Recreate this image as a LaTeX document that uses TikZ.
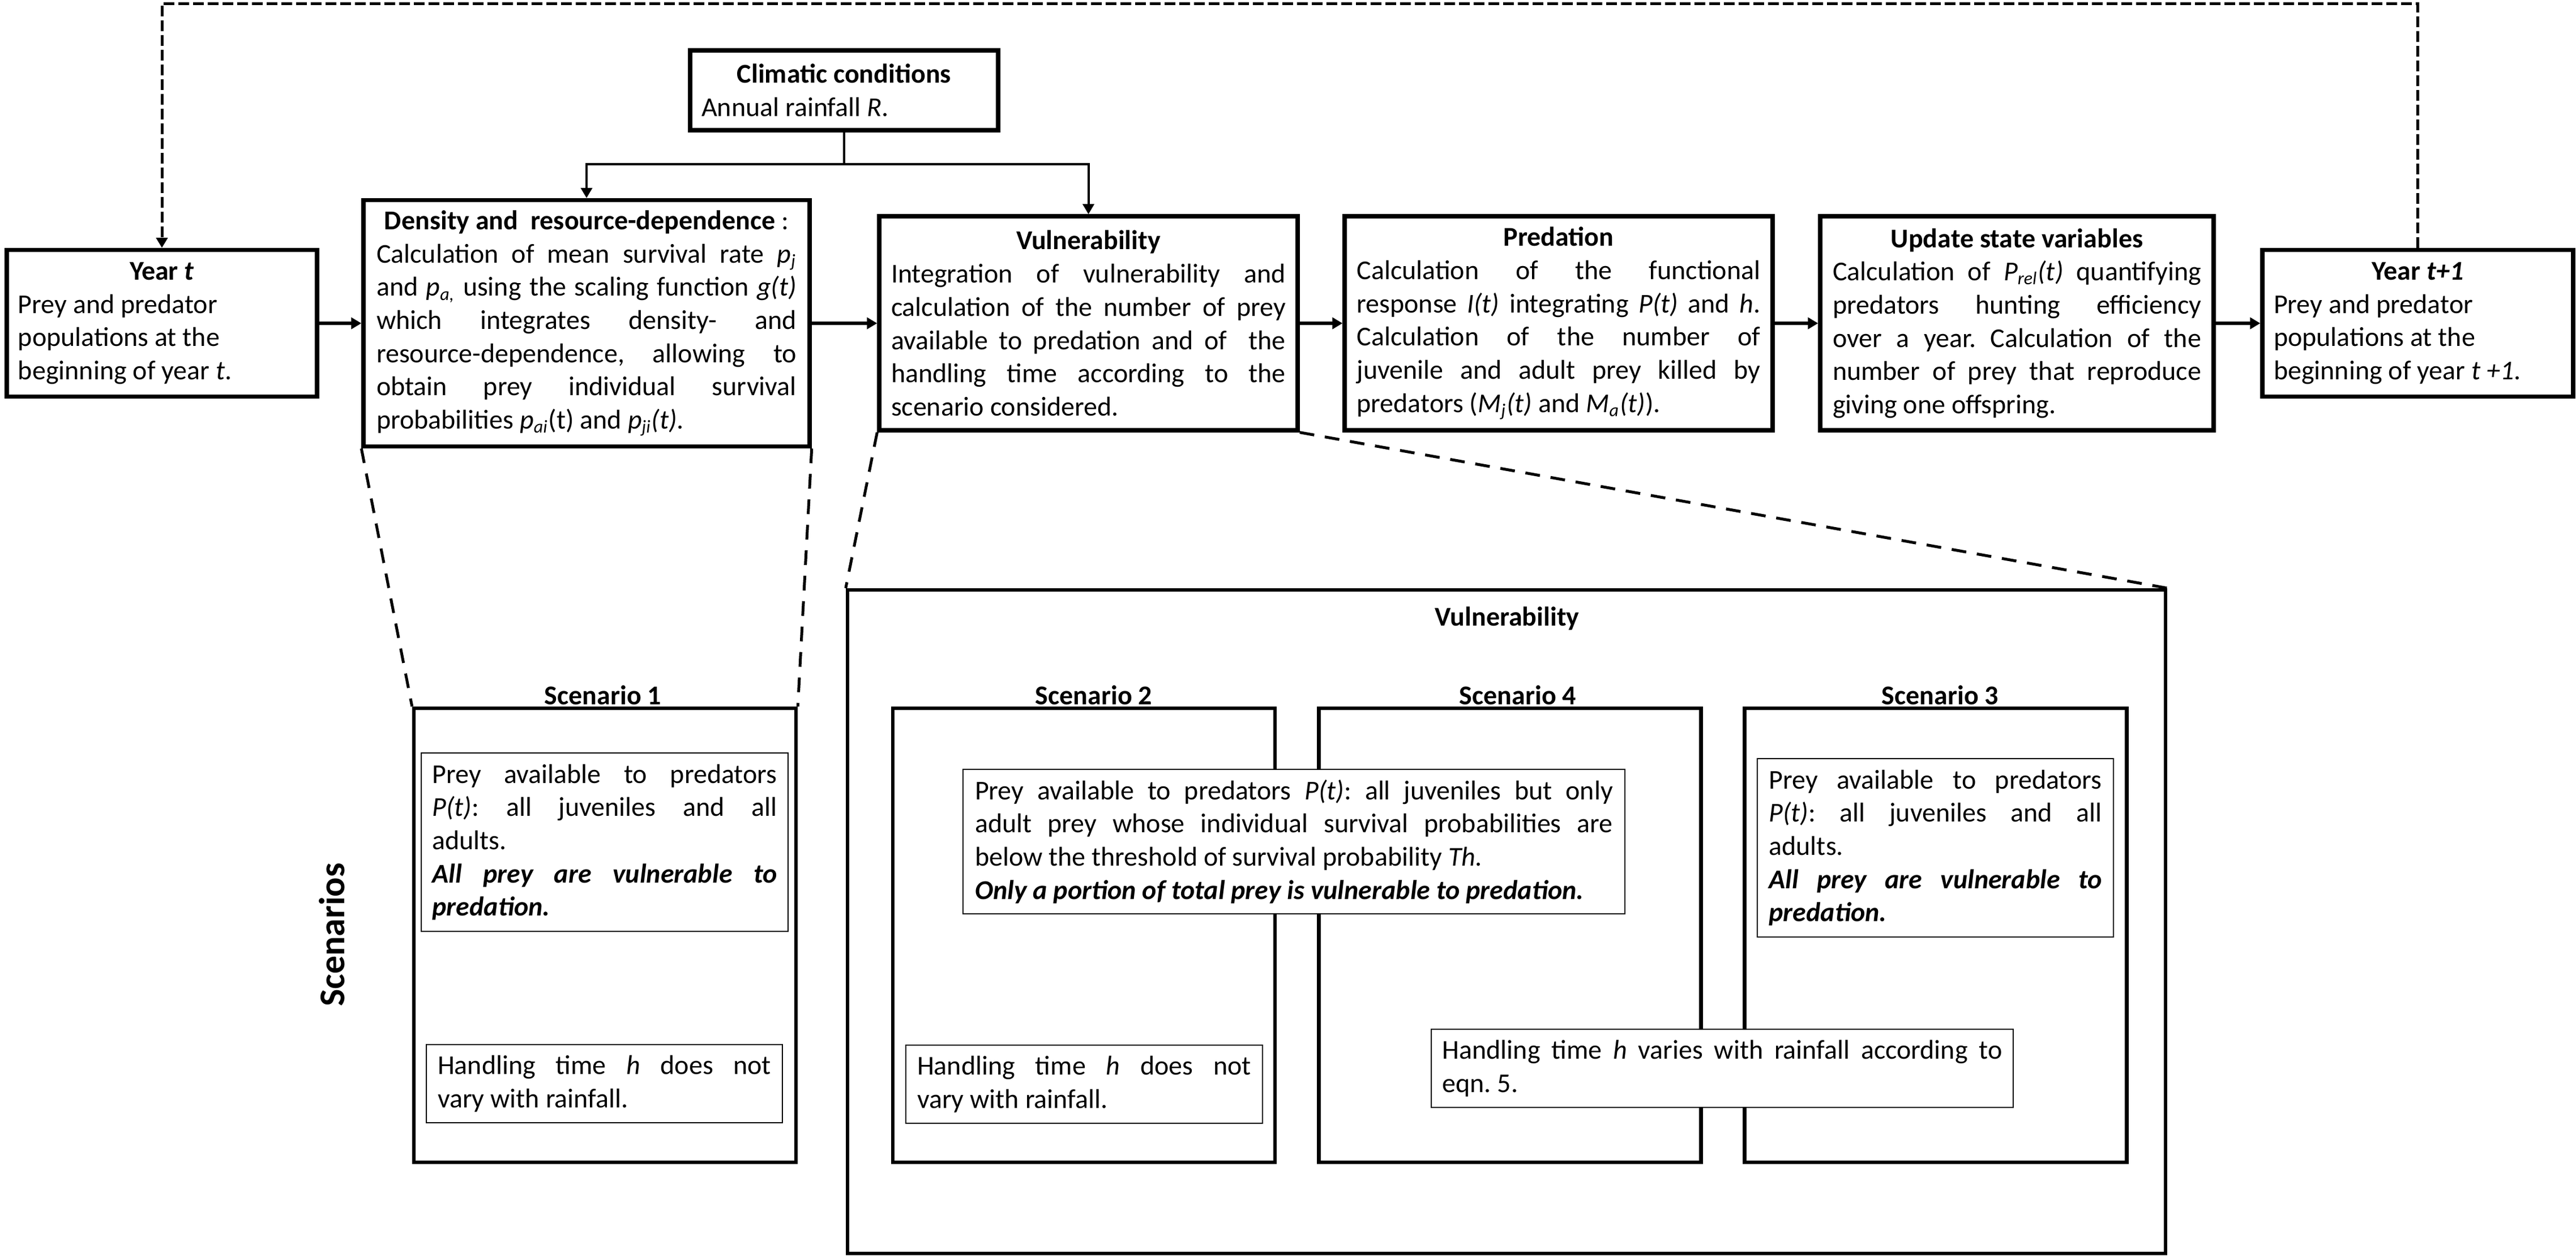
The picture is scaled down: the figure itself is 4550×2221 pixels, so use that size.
\documentclass[tikz,border=0pt]{standalone}
\usepackage{fontspec}
\setmainfont{Carlito}
\usetikzlibrary{arrows.meta}
\setlength{\parindent}{0pt}
\frenchspacing
\begin{document}
\begin{tikzpicture}[x=0.25pt,y=-0.25pt,
  every node/.style={font=\fontsize{12}{14.67}\selectfont\frenchspacing},
  mainbox/.style={draw, line width=1.85pt, align=justify, inner xsep=0pt, inner ysep=0pt},
  scenbox/.style={draw, line width=1.6pt, inner sep=0pt},
  txtbox/.style={draw, line width=0.65pt, fill=white, align=justify, inner xsep=0pt, inner ysep=0pt},
  lbl/.style={font=\fontsize{12}{14.67}\selectfont\bfseries, anchor=base, inner sep=0pt},
  flow/.style={line width=1.3pt, -{Triangle[length=4.5pt,width=5pt]}},
  climline/.style={line width=1pt, -{Triangle[length=4.5pt,width=5pt]}},
  feedback/.style={line width=1.25pt, dash pattern=on 4.75pt off 1.75pt, -{Triangle[length=4.5pt,width=5pt]}},
  zoomline/.style={line width=1.25pt, dash pattern=on 6.5pt off 4.75pt},
]
\useasboundingbox (0,0) rectangle (4550,2221);

% ---------- top row ----------
\node[mainbox, text width=127pt, minimum width=137pt, minimum height=64.75pt] (yt) at (286,571)
 {{\centering\textbf{Year \textit{t}}\par}Prey and predator\\populations at the\\beginning of year \textit{t}.};

\node[mainbox, text width=185.5pt, minimum width=197pt, minimum height=108.75pt] (dens) at (1036,571)
 {{\centering\textbf{Density and\ \ resource-dependence}\ :\par}Calculation of mean survival rate \textit{p\textsubscript{j}}\linebreak
 and \textit{p\textsubscript{a,}} using the scaling function \textit{g(t)}\linebreak
 which integrates density- and\linebreak
 resource-dependence, allowing to\linebreak
 obtain prey individual survival\linebreak
 probabilities \textit{p\textsubscript{ai}}(t) and \textit{p\textsubscript{ji}(t)}.};

\node[mainbox, text width=126pt, minimum width=136pt, minimum height=35.25pt] (clim) at (1491,159.5)
 {{\centering\textbf{Climatic conditions}\par}Annual rainfall \textit{R}.};

\node[mainbox, text width=174.25pt, minimum width=184.75pt, minimum height=94.5pt] (vul) at (1922.5,571)
 {{\centering\textbf{Vulnerability}\par}Integration of vulnerability and\linebreak
 calculation of the number of prey\linebreak
 available to predation and of\ \ the\linebreak
 handling time according to the\linebreak
 scenario considered.};

\node[mainbox, text width=178.25pt, minimum width=189pt, minimum height=94.5pt] (pred) at (2753,571)
 {{\centering\textbf{Predation}\par}Calculation of the functional\linebreak
 response \textit{I(t)} integrating \textit{P(t)} and \textit{h}.\linebreak
 Calculation of the number of\linebreak
 juvenile and adult prey killed by\linebreak
 predators (\textit{M\textsubscript{j}(t)} and \textit{M\textsubscript{a}(t)}).};

\node[mainbox, text width=162.75pt, minimum width=173.75pt, minimum height=94.5pt] (upd) at (3562.5,571)
 {{\centering\textbf{Update state variables}\par}Calculation of \textit{P\textsubscript{rel}(t)} quantifying\linebreak
 predators hunting efficiency\linebreak
 over a year. Calculation of the\linebreak
 number of prey that reproduce\linebreak
 giving one offspring.};

\node[mainbox, text width=127.25pt, minimum width=137.25pt, minimum height=64.75pt] (ytp) at (4270.5,571)
 {{\centering\textbf{Year \textit{t+1}}\par}Prey and predator\\populations at the\\beginning of year \textit{t +1}.};

% ---------- top connectors ----------
\draw[flow] (yt.east) -- (dens.west);
\draw[flow] (dens.east) -- (vul.west);
\draw[flow] (vul.east) -- (pred.west);
\draw[flow] (pred.east) -- (upd.west);
\draw[flow] (upd.east) -- (ytp.west);

\coordinate (cj) at (1491,290);
\draw[line width=1pt] (clim.south) -- (cj);
\draw[climline] (cj) -| (dens.north);
\draw[climline] (cj) -| (vul.north);

\coordinate (fbR) at (4270.5,6);
\coordinate (fbL) at (286,6);
\draw[feedback] (ytp.north) -- (fbR) -- (fbL) -- (yt.north);

% ---------- scenarios ----------
\node[font=\fontsize{16}{19}\selectfont\bfseries, rotate=90] (scen) at (586,1651) {Scenarios};

\node[scenbox, minimum width=168.75pt, minimum height=200.5pt] (sc1) at (1068.5,1652) {};
\node[lbl] (sc1l) at (1065,1244) {Scenario 1};

\node[scenbox, minimum width=582pt, minimum height=293pt] (big) at (2661,1628) {};
\node[lbl] (bigl) at (2662,1105) {Vulnerability};

\node[scenbox, minimum width=168.75pt, minimum height=200.5pt] (sc2) at (1914.5,1652) {};
\node[lbl] (sc2l) at (1932,1244) {Scenario 2};
\node[scenbox, minimum width=168.75pt, minimum height=200.5pt] (sc4) at (2667,1652) {};
\node[lbl] (sc4l) at (2681,1244) {Scenario 4};
\node[scenbox, minimum width=168.75pt, minimum height=200.5pt] (sc3) at (3419,1652) {};
\node[lbl] (sc3l) at (3427,1244) {Scenario 3};

\node[txtbox, text width=152.25pt, minimum width=162pt, minimum height=78.75pt] (in1) at (1068,1487.5)
 {Prey available to predators\linebreak
 \textit{P(t)}: all juveniles and all\linebreak
 adults.\par
 \textbf{\textit{All prey are vulnerable to\linebreak predation.}}};
\node[txtbox, text width=147.25pt, minimum width=157.25pt, minimum height=34.5pt] (in1b) at (1067.5,1914)
 {Handling time \textit{h} does not\linebreak vary with rainfall.};

\node[txtbox, text width=281.75pt, minimum width=292.25pt, minimum height=63.75pt] (ov) at (2285.5,1486.5)
 {Prey available to predators \textit{P(t)}: all juveniles but only\linebreak
 adult prey whose individual survival probabilities are\linebreak
 below the threshold of survival probability \textit{Th.}\par
 \textbf{\textit{Only a portion of total prey is vulnerable to predation.}}};

\node[txtbox, text width=147.5pt, minimum width=157.5pt, minimum height=34.5pt] (in2b) at (1915,1915)
 {Handling time \textit{h} does not\linebreak vary with rainfall.};

\node[txtbox, text width=147pt, minimum width=157.25pt, minimum height=78.75pt] (in3) at (3418.5,1497.5)
 {Prey available to predators\linebreak
 \textit{P(t)}: all juveniles and all\linebreak
 adults.\par
 \textbf{\textit{All prey are vulnerable to\linebreak predation.}}};

\node[txtbox, text width=247.25pt, minimum width=257pt, minimum height=34.5pt] (in4b) at (3042,1887)
 {Handling time \textit{h} varies with rainfall according to\linebreak eqn. 5.};

% ---------- zoom lines ----------
\draw[zoomline] (dens.south west) -- (sc1.north west);
\draw[zoomline] (dens.south east) -- (sc1.north east);
\draw[zoomline] (vul.south west) -- (big.north west);
\draw[zoomline] (vul.south east) -- (big.north east);
\end{tikzpicture}
\end{document}
